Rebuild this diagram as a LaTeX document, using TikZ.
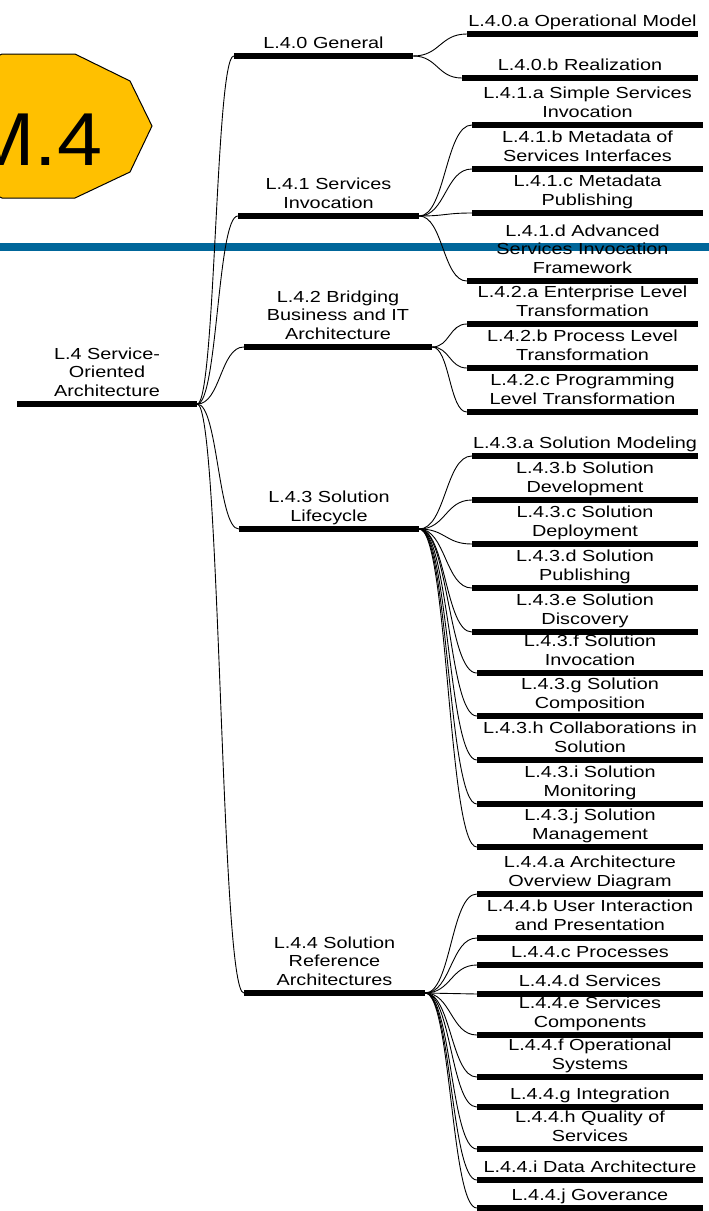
\documentclass[tikz,border=0pt]{standalone}
\usepackage{fontspec}
\setmainfont{Liberation Sans}[FakeStretch=1.24]
\newfontfamily\badgefont{Liberation Sans}[FakeStretch=1.08]
\usetikzlibrary{calc}
\definecolor{bandblue}{HTML}{00669A}
\definecolor{octyellow}{HTML}{FFC000}
\tikzset{
  barline/.style={fill=black, draw=none, inner sep=0pt, minimum height=5.5pt},
  lbl/.style={font=\fontsize{16}{18.5}\selectfont, align=center, inner sep=0pt, execute at end node=\strut},
  conn/.style={draw=black, line width=0.9pt},
}
\newcommand\tnode[5]{%
  \node[barline, minimum width=#4pt] (#1) at (#2,#3) {};
  \node[lbl, anchor=south, yshift=-1pt] (#1t) at (#1.north) {#5};}
\newcommand\link[2]{%
  \coordinate (mid) at ($(#1.east)!0.5!(#2.west)$);
  \draw[conn] (#1.east) .. controls (mid |- #1.east) and (mid |- #2.west) .. (#2.west);}
\begin{document}
\begin{tikzpicture}[x=1pt, y=-1pt]
\path[use as bounding box] (0,0) rectangle (709,1211);
\clip (0,0) rectangle (709,1211);
% blue band
\fill[bandblue] (0,242.5) rectangle (709,250.5);
% M.4 badge
\draw[fill=octyellow, line width=1pt] (2,54) -- (75,54) -- (130,81) -- (152,126) -- (130,172) -- (75,198) -- (2,198) -- (-53,172) -- (-75,126) -- (-53,81) -- cycle;
\node[anchor=base, inner sep=0pt, font=\badgefont\fontsize{75}{80}\selectfont] (m4) at (35,165) {M.4};
% level 0/1
\tnode{root}{107}{404}{180}{L.4 Service-\\Oriented\\Architecture}
\tnode{L40}{323.5}{56}{179}{L.4.0 General}
\tnode{L41}{328.5}{216}{181}{L.4.1 Services\\Invocation}
\tnode{L42}{338}{347}{188}{L.4.2 Bridging\\Business and IT\\Architecture}
\tnode{L43}{329}{529}{180}{L.4.3 Solution\\Lifecycle}
\tnode{L44}{334.5}{993}{181}{L.4.4 Solution\\Reference\\Architectures}
% leaves
\tnode{a40a}{582.5}{34}{231}{L.4.0.a Operational Model}
\tnode{a40b}{580}{78}{236}{L.4.0.b Realization}
\tnode{a41a}{587.5}{125}{231}{L.4.1.a Simple Services\\Invocation}
\tnode{a41b}{587.5}{169}{231}{L.4.1.b Metadata of\\Services Interfaces}
\tnode{a41c}{587.5}{213}{231}{L.4.1.c Metadata\\Publishing}
\tnode{a41d}{582.5}{281}{231}{L.4.1.d Advanced\\Services Invocation\\Framework}
\tnode{a42a}{582.5}{324}{231}{L.4.2.a Enterprise Level\\Transformation}
\tnode{a42b}{582.5}{368}{231}{L.4.2.b Process Level\\Transformation}
\tnode{a42c}{582.5}{412}{231}{L.4.2.c Programming\\Level Transformation}
\tnode{a43a}{585}{456}{226}{L.4.3.a Solution Modeling}
\tnode{a43b}{585}{500}{226}{L.4.3.b Solution\\Development}
\tnode{a43c}{585}{544}{226}{L.4.3.c Solution\\Deployment}
\tnode{a43d}{585}{588}{226}{L.4.3.d Solution\\Publishing}
\tnode{a43e}{585}{632}{226}{L.4.3.e Solution\\Discovery}
\tnode{a43f}{590}{673}{226}{L.4.3.f Solution\\Invocation}
\tnode{a43g}{590}{716}{226}{L.4.3.g Solution\\Composition}
\tnode{a43h}{590}{760}{226}{L.4.3.h Collaborations in\\Solution}
\tnode{a43i}{590}{804}{226}{L.4.3.i Solution\\Monitoring}
\tnode{a43j}{590}{847}{226}{L.4.3.j Solution\\Management}
\tnode{a44a}{590}{894}{226}{L.4.4.a Architecture\\Overview Diagram}
\tnode{a44b}{590}{938}{226}{L.4.4.b User Interaction\\and Presentation}
\tnode{a44c}{590}{965}{226}{L.4.4.c Processes}
\tnode{a44d}{590}{994}{226}{L.4.4.d Services}
\tnode{a44e}{590}{1035}{226}{L.4.4.e Services\\Components}
\tnode{a44f}{590}{1077}{226}{L.4.4.f Operational\\Systems}
\tnode{a44g}{590}{1107}{226}{L.4.4.g Integration}
\tnode{a44h}{590}{1149}{226}{L.4.4.h Quality of\\Services}
\tnode{a44i}{590}{1180}{226}{L.4.4.i Data Architecture}
\tnode{a44j}{590}{1208}{226}{L.4.4.j Goverance}
% connectors
\foreach \c in {L40,L41,L42,L43,L44} {\link{root}{\c}}
\foreach \c in {a40a,a40b} {\link{L40}{\c}}
\foreach \c in {a41a,a41b,a41c,a41d} {\link{L41}{\c}}
\foreach \c in {a42a,a42b,a42c} {\link{L42}{\c}}
\foreach \c in {a43a,a43b,a43c,a43d,a43e,a43f,a43g,a43h,a43i,a43j} {\link{L43}{\c}}
\foreach \c in {a44a,a44b,a44c,a44d,a44e,a44f,a44g,a44h,a44i,a44j} {\link{L44}{\c}}
\end{tikzpicture}
\end{document}
